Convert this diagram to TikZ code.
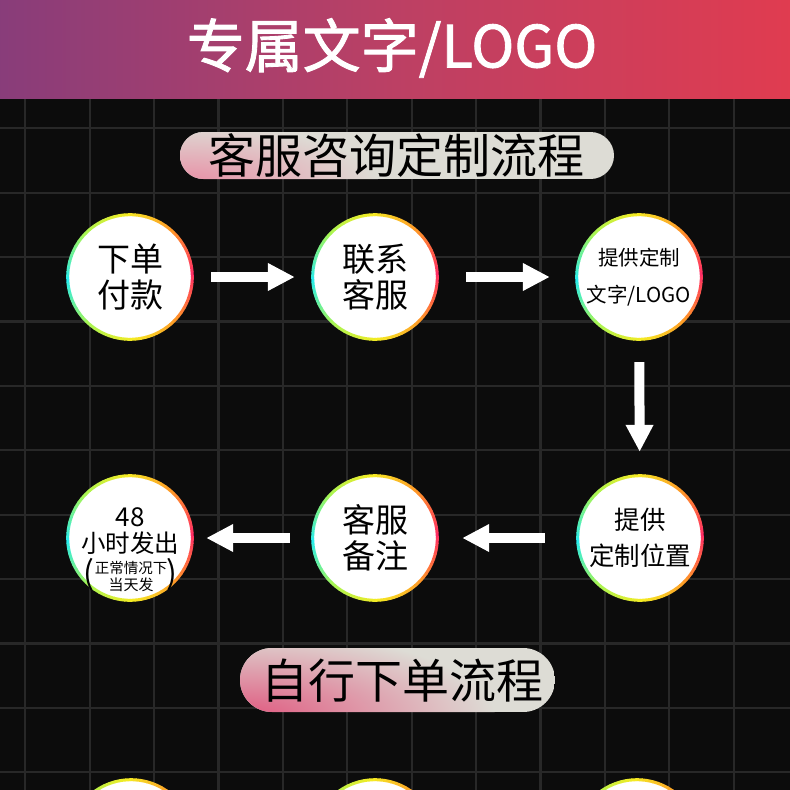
\documentclass[tikz,border=0pt]{standalone}
\usepackage{fontspec}
\setmainfont{Noto Sans CJK SC}
\newfontfamily\headfont[FakeBold=1.5]{Noto Sans CJK SC}
\usetikzlibrary{arrows.meta}
\definecolor{bg}{HTML}{0C0C0C}
\definecolor{gridc}{HTML}{282828}
\definecolor{hpurple}{HTML}{553A90}
\definecolor{hmid}{HTML}{BC4064}
\definecolor{hred}{HTML}{EE3A48}
\definecolor{pillgray}{HTML}{DDDCD5}
\definecolor{pillpinkA}{HTML}{E890A6}
\definecolor{pillpinkB}{HTML}{E05A80}
\definecolor{rr}{RGB}{255,45,100}
\definecolor{ro}{RGB}{255,150,40}
\definecolor{ry}{RGB}{245,235,35}
\definecolor{rg}{RGB}{165,245,85}
\definecolor{rc}{RGB}{40,235,235}
\pgfdeclarehorizontalshading{headshade}{100bp}{color(0bp)=(hpurple); color(50bp)=(hmid); color(85bp)=(hred); color(100bp)=(hred)}
\tikzset{
  x=1pt, y=-1pt,
  stepcircle/.style={circle, fill=white, minimum size=124pt, inner sep=0pt, align=center, text=black},
  bigtxt/.style={font=\fontsize{33}{36}\selectfont},
  blockarrow/.style={draw=white, line width=10pt, -{Triangle[length=27pt, width=26pt]}, white},
  gridline/.style={draw=gridc, line width=2.2pt},
}
\newcommand{\rainbowring}[1]{%
  \foreach \s/\ca/\cb in {0/rr/ro,45/ro/ry,90/ry/rg,135/rg/rc,180/rc/rg,225/rg/ry,270/ry/ro,315/ro/rr}{%
    \foreach \k in {0,...,8}{%
      \pgfmathsetmacro\st{\s+5*\k}%
      \pgfmathtruncatemacro\p{100-\k*11}%
      \draw[line width=3pt, color=\ca!\p!\cb] ([shift={(\st:62.3pt)}]#1.center) arc[start angle=\st, delta angle=5.6, radius=62.3pt];
    }%
  }%
}
\begin{document}
\begin{tikzpicture}
\useasboundingbox (0,0) rectangle (790,790);
\clip (0,0) rectangle (790,790);
\fill[bg] (0,0) rectangle (790,790);
% grid
\foreach \i in {0,...,11}{\draw[gridline] ({25.2+64.4*\i},0) -- ({25.2+64.4*\i},790);}
\foreach \j in {0,...,10}{\draw[gridline] (0,{128.3+64.4*\j}) -- (790,{128.3+64.4*\j});}
% header
\shade[shading=headshade] (0,0) rectangle (790,98);
\node[text=white, font=\headfont\fontsize{58}{60}\selectfont, inner sep=0pt] (title) at (392,48) {专属文字/LOGO};
% pill 1
\begin{scope}
\clip[rounded corners=23.5pt] (180,132) rectangle (614,179);
\fill[pillgray] (180,132) rectangle (614,179);
\shade[inner color=pillpinkA, outer color=pillgray] (188,182) ellipse [x radius=190, y radius=58];
\end{scope}
\node[font=\fontsize{47}{49}\selectfont, inner sep=0pt, text=black] (pill1) at (396,156) {客服咨询定制流程};
% pill 2
\begin{scope}
\clip[rounded corners=32pt] (240,648) rectangle (555,712);
\fill[pillgray] (240,648) rectangle (555,712);
\shade[inner color=pillpinkB, outer color=pillgray] (245,716) ellipse [x radius=250, y radius=85];
\end{scope}
\node[font=\fontsize{47}{49}\selectfont, inner sep=0pt, text=black] (pill2) at (402,681) {自行下单流程};
% circles
\node[stepcircle, bigtxt] (c1) at (130,277) {下单\\付款};
\node[stepcircle, bigtxt] (c2) at (375,277) {联系\\客服};
\node[stepcircle, font=\fontsize{20.5}{37}\selectfont] (c3) at (639,277) {提供定制\\文字/LOGO};
\node[stepcircle] (c4) at (130,538) {};
\node[stepcircle, bigtxt] (c5) at (375,538) {客服\\备注};
\node[stepcircle, font=\fontsize{25.5}{36}\selectfont] (c6) at (640,538) {提供\\定制位置};
\node[stepcircle] (c7) at (131,842) {};
\node[stepcircle] (c8) at (375,842) {};
\node[stepcircle] (c9) at (637,842) {};
\foreach \c in {c1,c2,c3,c4,c5,c6,c7,c8,c9}{\rainbowring{\c}}
% c4 text
\node[font=\fontsize{26}{28}\selectfont, inner sep=0pt] (t4a) at (130,517) {48};
\node[font=\fontsize{24.5}{26}\selectfont, inner sep=0pt] (t4b) at (130,543) {小时发出};
\node[font=\fontsize{14.5}{16}\selectfont, inner sep=0pt] (t4c) at (131,568) {正常情况下};
\node[font=\fontsize{15}{16}\selectfont, inner sep=0pt] (t4d) at (131,585) {当天发};
\node[font=\fontsize{32}{34}\selectfont, inner sep=0pt] (p4l) at (89,575) {(};
\node[font=\fontsize{32}{34}\selectfont, inner sep=0pt] (p4r) at (172,575) {)};
% arrows
\draw[blockarrow, shorten <=19pt, shorten >=18pt] (c1) -- (c2);
\draw[blockarrow, shorten <=29pt, shorten >=27pt] (c2) -- (c3);
\draw[blockarrow, shorten <=23pt, shorten >=24pt] (c3) -- (c6);
\draw[blockarrow, shorten <=33pt, shorten >=25pt] (c6) -- (c5);
\draw[blockarrow, shorten <=23pt, shorten >=14pt] (c5) -- (c4);
\end{tikzpicture}
\end{document}
